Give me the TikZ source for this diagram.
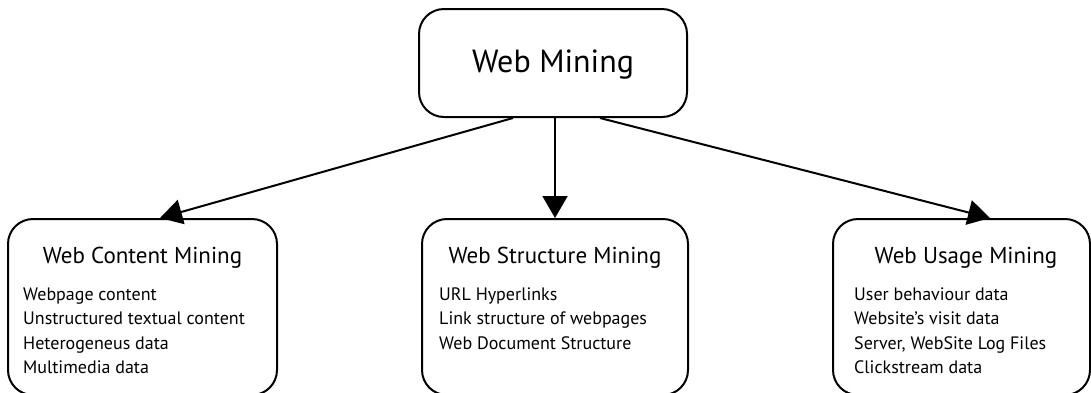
\documentclass[tikz,border=0pt]{standalone}
\usepackage{fontspec}
\setmainfont{PT Sans}
\usetikzlibrary{arrows.meta}
\begin{document}
\begin{tikzpicture}[x=1pt,y=-1pt,
  box/.style={draw=black,line width=2pt,rounded corners=25pt,inner sep=0pt},
  arr/.style={line width=2pt,-{Triangle[length=22pt,width=25pt]}},
  head/.style={anchor=base,font=\fontsize{23}{27}\selectfont,inner sep=0pt},
  item/.style={anchor=base west,font=\fontsize{18}{22}\selectfont,inner sep=0pt}]
\useasboundingbox (0,0) rectangle (1091,392);
\node[box,minimum width=268pt,minimum height=108pt] (top) at (553,63) {};
\node[anchor=base,font=\fontsize{32}{36}\selectfont,inner sep=0pt] (toptext) at (553,72) {Web Mining};
% bottom boxes
\node[box,minimum width=269pt,minimum height=176pt] (lbox) at (142.5,307) {};
\node[box,minimum width=266pt,minimum height=176pt] (cbox) at (555,307) {};
\node[box,minimum width=257pt,minimum height=176pt] (rbox) at (961.5,307) {};
\node[head] (lh) at (142.5,263) {Web Content Mining};
\node[head] (ch) at (555,263) {Web Structure Mining};
\node[head] (rh) at (966,263) {Web Usage Mining};
\node[item] (l1) at (23,300) {Webpage content};
\node[item] (l2) at (23,324.5) {Unstructured textual content};
\node[item] (l3) at (23,349) {Heterogeneus data};
\node[item] (l4) at (23,373.5) {Multimedia data};
\node[item] (c1) at (439,300) {URL Hyperlinks};
\node[item] (c2) at (439,324.5) {Link structure of webpages};
\node[item] (c3) at (439,349) {Web Document Structure};
\node[item] (r1) at (854,300) {User behaviour data};
\node[item] (r2) at (854,324.5) {Website’s visit data};
\node[item] (r3) at (854,349) {Server, WebSite Log Files};
\node[item] (r4) at (854,373.5) {Clickstream data};
\draw[arr] ([xshift=-40pt]top.south) -- ([xshift=17.5pt]lbox.north);
\draw[arr] ([xshift=2pt]top.south) -- (cbox.north);
\draw[arr] ([xshift=47pt]top.south) -- ([xshift=28.5pt]rbox.north);
\end{tikzpicture}
\end{document}
